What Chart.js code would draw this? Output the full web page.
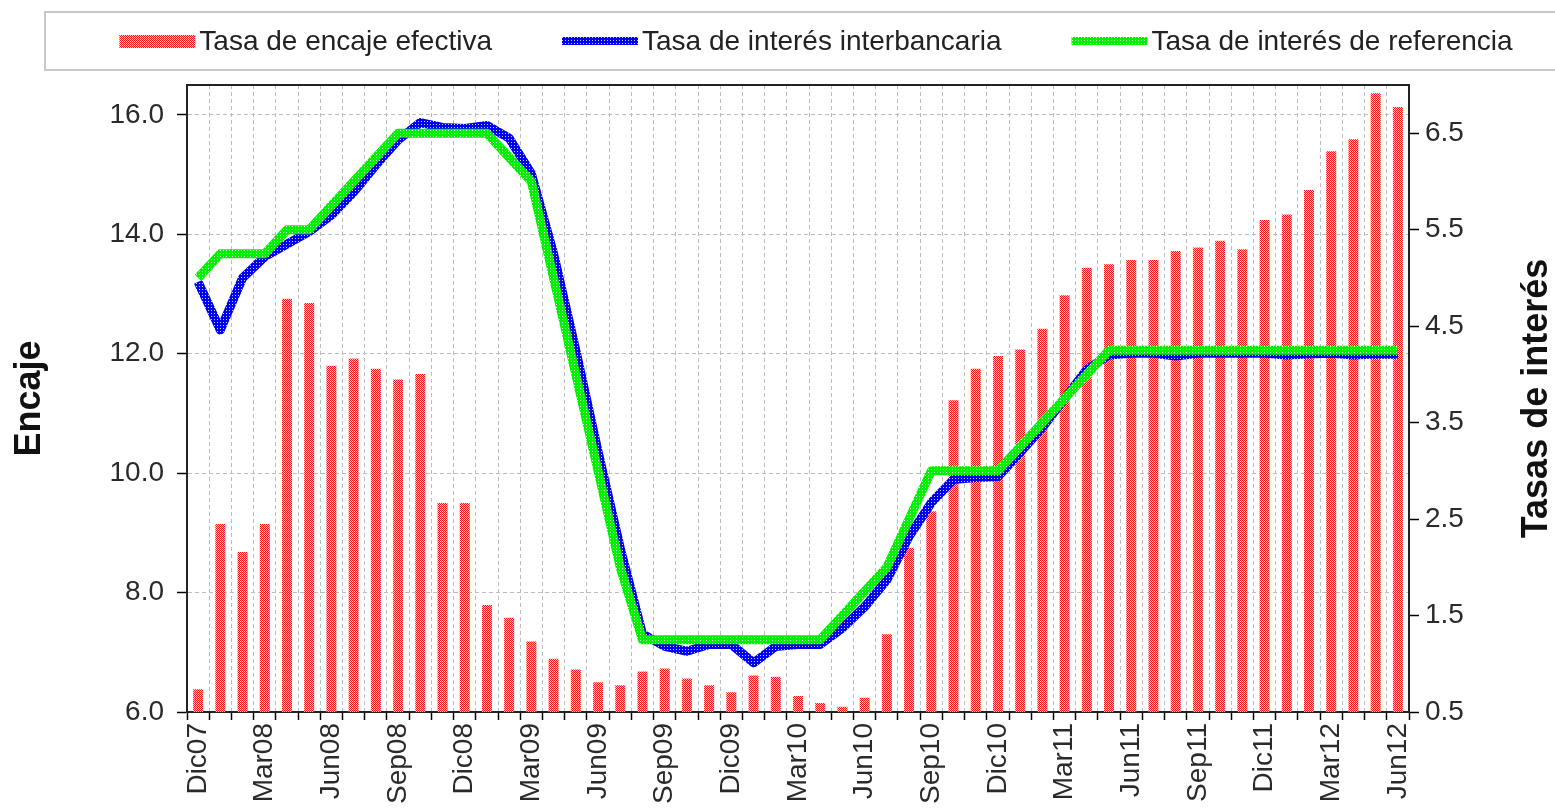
<!DOCTYPE html>
<html lang="es">
<head>
    <meta charset="UTF-8">
    <title>Encaje y tasas de interés</title>
    <script src="https://cdn.jsdelivr.net/npm/chart.js"></script>
    <style>
        body, html {
            margin: 0;
            padding: 0;
            background-color: #ffffff;
        }

        .contenedor {
            width: 1555px;
            height: 811px;
        }
    </style>
</head>
<body>
    <div class="contenedor">
        <canvas id="grafico" width="1555" height="811"></canvas>
    </div>

    <script>
        // Datos mensuales
        const meses = [
            'Dic07', 'Ene08', 'Feb08', 'Mar08', 'Abr08', 'May08', 'Jun08', 'Jul08', 'Ago08', 'Sep08', 'Oct08', 'Nov08',
            'Dic08', 'Ene09', 'Feb09', 'Mar09', 'Abr09', 'May09', 'Jun09', 'Jul09', 'Ago09', 'Sep09', 'Oct09', 'Nov09',
            'Dic09', 'Ene10', 'Feb10', 'Mar10', 'Abr10', 'May10', 'Jun10', 'Jul10', 'Ago10', 'Sep10', 'Oct10', 'Nov10',
            'Dic10', 'Ene11', 'Feb11', 'Mar11', 'Abr11', 'May11', 'Jun11', 'Jul11', 'Ago11', 'Sep11', 'Oct11', 'Nov11',
            'Dic11', 'Ene12', 'Feb12', 'Mar12', 'Abr12', 'May12', 'Jun12'
        ];

        const encaje = [
            6.38, 9.15, 8.68, 9.15, 12.92, 12.85, 11.80, 11.92, 11.75, 11.57, 11.66, 9.50,
            9.50, 7.79, 7.58, 7.18, 6.89, 6.71, 6.50, 6.45, 6.68, 6.73, 6.56, 6.45,
            6.33, 6.61, 6.59, 6.27, 6.15, 6.09, 6.24, 7.30, 8.75, 9.36, 11.22, 11.75,
            11.96, 12.07, 12.42, 12.98, 13.44, 13.50, 13.57, 13.57, 13.72, 13.78, 13.89, 13.75,
            14.24, 14.33, 14.74, 15.39, 15.59, 16.36, 16.13
        ];

        const interbancaria = [
            4.96, 4.46, 5.00, 5.22, 5.35, 5.48, 5.65, 5.89, 6.17, 6.43, 6.61, 6.56,
            6.55, 6.58, 6.45, 6.08, 5.25, 4.25, 3.20, 2.20, 1.31, 1.18, 1.13, 1.20,
            1.20, 1.01, 1.18, 1.20, 1.20, 1.37, 1.59, 1.87, 2.32, 2.67, 2.91, 2.93,
            2.94, 3.19, 3.45, 3.75, 4.05, 4.20, 4.22, 4.22, 4.19, 4.22, 4.22, 4.22,
            4.22, 4.20, 4.21, 4.22, 4.20, 4.21, 4.21
        ];

        const referencia = [
            5.00, 5.25, 5.25, 5.25, 5.50, 5.50, 5.75, 6.00, 6.25, 6.50, 6.50, 6.50,
            6.50, 6.50, 6.25, 6.00, 5.00, 4.00, 3.00, 2.00, 1.25, 1.25, 1.25, 1.25,
            1.25, 1.25, 1.25, 1.25, 1.25, 1.50, 1.75, 2.00, 2.50, 3.00, 3.00, 3.00,
            3.00, 3.25, 3.50, 3.75, 4.00, 4.25, 4.25, 4.25, 4.25, 4.25, 4.25, 4.25,
            4.25, 4.25, 4.25, 4.25, 4.25, 4.25, 4.25
        ];

        const ticksEncaje = [6, 8, 10, 12, 14, 16];
        const ticksTasas = [0.5, 1.5, 2.5, 3.5, 4.5, 5.5, 6.5];

        const FUENTE = '"Liberation Sans", Arial, sans-serif';

        // Texturas punteadas como en el original
        function patron(fondo, punto, tam, celdas) {
            const c = document.createElement('canvas');
            c.width = tam;
            c.height = tam;
            const g = c.getContext('2d');
            g.fillStyle = fondo;
            g.fillRect(0, 0, tam, tam);
            g.fillStyle = punto;
            celdas.forEach(([x, y]) => g.fillRect(x, y, 1, 1));
            return g.createPattern(c, 'repeat');
        }

        const texturaRoja = patron('#fac4c4', '#ee1818', 2, [[0, 0], [1, 1]]);
        const texturaAzul = patron('#0000f0', '#c8c8ff', 3, [[1, 1]]);
        const texturaVerde = patron('#00f000', '#d8ffd8', 3, [[1, 1]]);

        // Leyenda con recuadro, dibujada a mano
        const leyenda = {
            id: 'leyenda',
            afterDraw(chart) {
                const c = chart.ctx;
                c.save();
                c.strokeStyle = '#c8c8c8';
                c.lineWidth = 2;
                c.strokeRect(45, 12, 1600, 58);
                c.font = '28px ' + FUENTE;
                c.textBaseline = 'middle';
                const items = [2, 1, 0].map(i => chart.data.datasets[i]);
                const icono = 76, hueco = 4, sep = 70, yc = 41;
                const anchos = items.map(d => c.measureText(d.label).width);
                const total = anchos.reduce((a, b) => a + b + icono + hueco, 0) + sep * (items.length - 1);
                let x = 816 - total / 2;
                items.forEach((d, k) => {
                    if (d.type === 'bar') {
                        c.fillStyle = d.backgroundColor;
                        c.fillRect(x, yc - 6, icono, 13);
                    } else {
                        c.strokeStyle = d.borderColor;
                        c.lineWidth = 8;
                        c.beginPath();
                        c.moveTo(x, yc);
                        c.lineTo(x + icono, yc);
                        c.stroke();
                    }
                    c.fillStyle = '#222';
                    c.fillText(d.label, x + icono + hueco, yc + 1);
                    x += icono + hueco + anchos[k] + sep;
                });
                c.restore();
            }
        };

        // Marco superior del área y título del eje derecho
        const marco = {
            id: 'marco',
            afterDraw(chart) {
                const c = chart.ctx;
                const a = chart.chartArea;
                c.save();
                c.strokeStyle = '#222';
                c.lineWidth = 2;
                c.beginPath();
                c.moveTo(a.left, a.top);
                c.lineTo(a.right, a.top);
                c.stroke();
                c.translate(1537, (a.top + a.bottom) / 2);
                c.rotate(-Math.PI / 2);
                c.font = 'bold 36px ' + FUENTE;
                c.fillStyle = '#111';
                c.textAlign = 'center';
                c.textBaseline = 'middle';
                c.fillText('Tasas de interés', 0, 0);
                c.restore();
            }
        };

        new Chart(document.getElementById('grafico').getContext('2d'), {
            type: 'bar',
            data: {
                labels: meses,
                datasets: [{
                    type: 'line',
                    label: 'Tasa de interés de referencia',
                    data: referencia,
                    yAxisID: 'y1',
                    borderColor: texturaVerde,
                    borderWidth: 9,
                    borderJoinStyle: 'round',
                    pointRadius: 0,
                    tension: 0,
                    order: 0
                }, {
                    type: 'line',
                    label: 'Tasa de interés interbancaria',
                    data: interbancaria,
                    yAxisID: 'y1',
                    borderColor: texturaAzul,
                    borderWidth: 9,
                    borderJoinStyle: 'round',
                    pointRadius: 0,
                    tension: 0,
                    order: 1
                }, {
                    type: 'bar',
                    label: 'Tasa de encaje efectiva',
                    data: encaje,
                    yAxisID: 'y',
                    backgroundColor: texturaRoja,
                    categoryPercentage: 1,
                    barPercentage: 0.45,
                    order: 2
                }]
            },
            options: {
                responsive: false,
                animation: false,
                layout: {
                    padding: { top: 85, left: 0, right: 0, bottom: 0 }
                },
                plugins: {
                    legend: { display: false },
                    tooltip: { enabled: false }
                },
                scales: {
                    x: {
                        offset: true,
                        grid: { offset: true, color: '#bdbdbd', tickColor: '#000', tickLength: 8, tickWidth: 1.5 },
                        border: { color: '#222', width: 2, dash: [4, 3] },
                        ticks: {
                            autoSkip: false,
                            minRotation: 90,
                            maxRotation: 90,
                            padding: 3,
                            color: '#2a2a2a',
                            font: { family: FUENTE, size: 28 },
                            callback: (v, i) => (i % 3 === 0 ? meses[i] : '')
                        },
                        afterFit: s => { s.height = 99; }
                    },
                    y: {
                        position: 'left',
                        min: 6,
                        max: 16.5,
                        afterBuildTicks: s => { s.ticks = ticksEncaje.map(v => ({ value: v })); },
                        afterFit: s => { s.width = 187; },
                        grid: { color: '#bdbdbd', tickColor: '#000', tickLength: 10, tickWidth: 1.5 },
                        border: { color: '#222', width: 2, dash: [4, 3] },
                        ticks: {
                            padding: 13,
                            color: '#2a2a2a',
                            font: { family: FUENTE, size: 28 },
                            callback: v => v.toFixed(1)
                        },
                        title: {
                            display: true,
                            text: 'Encaje',
                            color: '#111',
                            font: { family: FUENTE, size: 36, weight: 'bold' },
                            padding: { top: 8 }
                        }
                    },
                    y1: {
                        position: 'right',
                        min: 0.5,
                        max: 7,
                        afterBuildTicks: s => { s.ticks = ticksTasas.map(v => ({ value: v })); },
                        afterFit: s => { s.width = 146; },
                        grid: { drawOnChartArea: false, color: '#000', tickLength: 10, tickWidth: 1.5 },
                        border: { color: '#222', width: 2 },
                        ticks: {
                            padding: 6,
                            color: '#2a2a2a',
                            font: { family: FUENTE, size: 28 },
                            callback: v => v.toFixed(1)
                        }
                    }
                }
            },
            plugins: [leyenda, marco]
        });
    </script>
</body>
</html>
